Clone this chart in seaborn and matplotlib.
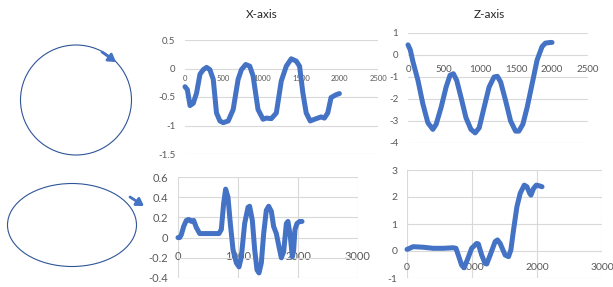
import numpy as np
import pandas as pd
import matplotlib.pyplot as plt
import seaborn as sns
from matplotlib.patches import Ellipse
from matplotlib.ticker import FuncFormatter

# X-axis, circle motion (top left chart)
xc_t = [0, 30, 65, 107, 150, 194, 237, 280, 322, 366, 408, 452, 495, 560, 624, 688, 731, 787, 839, 882,
        946, 1011, 1054, 1118, 1183, 1247, 1312, 1376, 1441, 1484, 1527, 1570, 1622, 1699, 1763, 1806, 1849, 1892, 1957, 2000]
xc_v = [-0.32, -0.37, -0.65, -0.61, -0.43, -0.10, -0.02, 0.02, -0.02, -0.19, -0.78, -0.92, -0.95, -0.92, -0.72,
        -0.19, -0.02, 0.07, 0.04, -0.13, -0.72, -0.89, -0.87, -0.88, -0.78, -0.22, 0.04, 0.17, 0.13, 0.04,
        -0.43, -0.78, -0.92, -0.88, -0.85, -0.87, -0.78, -0.51, -0.46, -0.44]

# Z-axis, circle motion (top right chart)
zc_t = [0, 32, 69, 138, 207, 276, 345, 391, 460, 529, 584, 630, 676, 736, 805, 874, 933, 989, 1057, 1126,
        1195, 1241, 1287, 1356, 1425, 1494, 1540, 1595, 1655, 1724, 1793, 1862, 1908, 1977, 2000]
zc_v = [0.46, 0.23, -0.31, -1.15, -2.23, -3.08, -3.38, -3.15, -2.38, -1.46, -0.92, -0.85, -1.15, -1.92, -2.85,
        -3.38, -3.54, -3.31, -2.38, -1.46, -1.0, -0.97, -1.23, -2.08, -3.0, -3.46, -3.46, -3.15, -2.38, -1.31,
        -0.23, 0.38, 0.54, 0.57, 0.57]

# X-axis, ellipse motion (bottom left chart)
xe_t = [0, 28, 56, 94, 139, 178, 222, 261, 305, 361, 417, 528, 611, 683, 722, 761, 794, 833, 872, 917,
        972, 1017, 1056, 1111, 1167, 1194, 1239, 1278, 1317, 1350, 1389, 1428, 1472, 1511, 1556, 1594, 1639,
        1683, 1722, 1761, 1806, 1833, 1872, 1906, 1928, 1950, 1983, 2028, 2067]
xe_v = [0, 0, 0.03, 0.11, 0.17, 0.18, 0.16, 0.17, 0.10, 0.04, 0.04, 0.04, 0.04, 0.04, 0.08, 0.34, 0.48, 0.40,
        0.14, -0.12, -0.25, -0.29, -0.19, 0.14, 0.30, 0.31, 0.17, -0.12, -0.32, -0.35, -0.25, 0.04, 0.27, 0.31,
        0.26, 0.11, 0.04, -0.09, -0.20, -0.14, 0.14, 0.16, 0.01, -0.19, -0.12, 0.08, 0.14, 0.16, 0.16]

# Z-axis, ellipse motion (bottom right chart)
ze_t = [0, 41, 93, 247, 402, 557, 711, 753, 789, 840, 876, 928, 995, 1072, 1098, 1149, 1201, 1227, 1289, 1356,
        1392, 1433, 1510, 1562, 1598, 1639, 1691, 1742, 1804, 1845, 1887, 1907, 1948, 1990, 2041, 2077]
ze_v = [0.06, 0.10, 0.16, 0.14, 0.10, 0.10, 0.12, 0.10, -0.15, -0.52, -0.62, -0.33, 0.10, 0.28, 0.26, -0.15,
        -0.46, -0.48, -0.09, 0.35, 0.41, 0.28, -0.15, -0.21, 0.04, 0.78, 1.64, 2.14, 2.44, 2.38, 2.14, 2.07,
        2.32, 2.44, 2.41, 2.38]

titles = ["X-axis", "Z-axis"]

sns.set_theme(style="white")
plt.rcParams['font.family'] = ['Lato', 'DejaVu Sans']
plt.rcParams['axes.unicode_minus'] = False

W, H = 613, 287
BLUE = '#4472C4'
GRID = '#D9D9D9'
TXT = '#595959'

fig = plt.figure(figsize=(W / 100, H / 100), dpi=100)
fig.patch.set_facecolor('white')


def rect(x0, x1, ytop, ybot):
    return [x0 / W, 1 - ybot / H, (x1 - x0) / W, (ybot - ytop) / H]


# sketches of the motion paths on the left
bg = fig.add_axes([0, 0, 1, 1])
bg.set_xlim(0, W)
bg.set_ylim(H, 0)
bg.axis('off')
bg.add_patch(Ellipse((76, 100), 111, 110, fill=False, ec='#2F5597', lw=0.8))
bg.add_patch(Ellipse((72, 225), 129, 83, fill=False, ec='#2F5597', lw=0.8))
arrow = dict(arrowstyle='-|>,head_length=0.35,head_width=0.22', color=BLUE, lw=2,
             shrinkA=0, shrinkB=0)
bg.annotate('', xy=(116, 62), xytext=(102, 52), arrowprops=arrow)
bg.annotate('', xy=(144, 206), xytext=(130, 197), arrowprops=arrow)

panels = [
    dict(t=xc_t, v=xc_v, r=rect(185, 378, 40, 154), xlim=(0, 2500), ylim=(-1.5, 0.5),
         xt=np.arange(0, 2501, 500), yt=np.arange(-1.5, 0.51, 0.5), vgrid=False, fy=7, fx=5.5, xpad=5),
    dict(t=zc_t, v=zc_v, r=rect(408, 588, 33, 143), xlim=(0, 2500), ylim=(-4, 1),
         xt=np.arange(0, 2501, 500), yt=np.arange(-4, 1.1, 1), vgrid=False, fy=7, fx=7, xpad=7),
    dict(t=xe_t, v=xe_v, r=rect(178, 358, 177, 278), xlim=(0, 3000), ylim=(-0.4, 0.6),
         xt=np.arange(0, 3001, 1000), yt=np.arange(-0.4, 0.61, 0.2), vgrid=True, fy=8, fx=8, xpad=10),
    dict(t=ze_t, v=ze_v, r=rect(407, 602, 170, 278), xlim=(0, 3000), ylim=(-1, 3),
         xt=np.arange(0, 3001, 1000), yt=np.arange(-1, 3.1, 1), vgrid=True, fy=7.5, fx=7.5, xpad=9),
]

fmt = FuncFormatter(lambda val, pos: '{:g}'.format(round(val, 2)))

for p in panels:
    ax = fig.add_axes(p['r'])
    ax.patch.set_alpha(0)
    sns.lineplot(x=p['t'], y=p['v'], ax=ax, color=BLUE, lw=3.6, sort=False, clip_on=False,
                 solid_capstyle='round', solid_joinstyle='round', zorder=3)
    ax.set_xlim(p['xlim'])
    ax.set_ylim(p['ylim'])
    ax.set_xticks(p['xt'])
    ax.set_yticks(p['yt'])
    ax.xaxis.set_major_formatter(fmt)
    ax.yaxis.set_major_formatter(fmt)
    ax.set_xlabel('')
    ax.set_ylabel('')
    for s in ['top', 'right', 'left']:
        ax.spines[s].set_visible(False)
    ax.spines['bottom'].set_position(('data', 0))
    ax.spines['bottom'].set_color('none')
    ax.grid(axis='y', color=GRID, lw=0.8)
    if p['vgrid']:
        ax.grid(axis='x', color=GRID, lw=0.8)
    ax.tick_params(axis='y', length=0, pad=7, labelsize=p['fy'], labelcolor=TXT)
    ax.tick_params(axis='x', length=0, pad=p['xpad'], labelsize=p['fx'], labelcolor=TXT)

fig.text(262 / W, 1 - 15 / H, titles[0], ha='center', va='center', fontsize=8.5, color='#262626')
fig.text(489 / W, 1 - 15 / H, titles[1], ha='center', va='center', fontsize=8.5, color='#262626')

fig.savefig('out.png', dpi=100, facecolor='white')
